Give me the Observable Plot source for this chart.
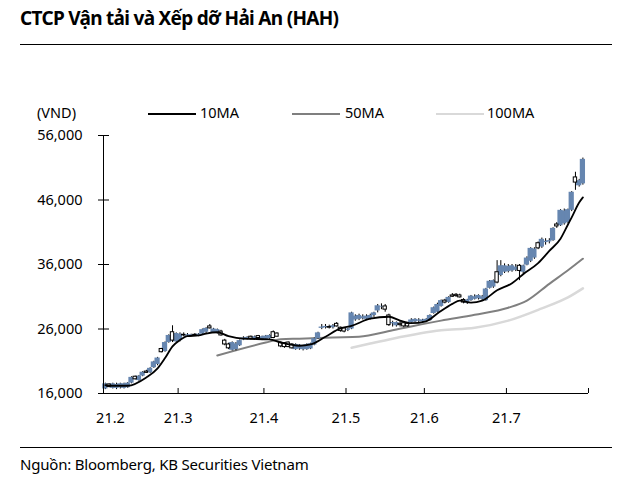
<!DOCTYPE html>
<html>
<head>
<meta charset="utf-8">
<script src="https://cdn.jsdelivr.net/npm/d3@7"></script>
<script src="https://cdn.jsdelivr.net/npm/@observablehq/plot@0.6"></script>
<style>
  html, body { margin: 0; padding: 0; background: #fff; }
  body { width: 621px; height: 481px; position: relative; overflow: hidden; font-family: "Noto Sans", sans-serif; color: #000; }
  .abs { position: absolute; }
  #title { left: 20px; top: 5px; font-size: 19px; font-weight: 700; letter-spacing: -0.7px; white-space: nowrap; }
  .hr { height: 1px; background: #000; left: 20px; width: 592px; }
  #footer { left: 20px; top: 454px; font-size: 15px; white-space: nowrap; letter-spacing: -0.2px; }
  .leg { font-size: 14.5px; white-space: nowrap; }
  .sw { height: 2px; width: 48px; }
  #chart { left: 0; top: 95px; }
</style>
</head>
<body>
<div id="title" class="abs">CTCP Vận tải và Xếp dỡ Hải An (HAH)</div>
<div class="abs hr" style="top:44px"></div>
<div class="abs leg" style="left:37px; top:102px">(VND)</div>
<div class="abs sw" style="left:148px; top:113px; background:#000"></div>
<div class="abs leg" style="left:200px; top:102px">10MA</div>
<div class="abs sw" style="left:292px; top:113px; background:#7f7f7f"></div>
<div class="abs leg" style="left:345px; top:102px">50MA</div>
<div class="abs sw" style="left:436px; top:113px; background:#d9d9d9"></div>
<div class="abs leg" style="left:487px; top:102px">100MA</div>
<div id="chart" class="abs"></div>
<div class="abs hr" style="top:447px"></div>
<div id="footer" class="abs">Nguồn: Bloomberg, KB Securities Vietnam</div>
<script>
// Trading-day index (weekdays Feb 1 – Jul 29, 2021); prices in thousand VND
const monthTickIdx = [0, 20, 43, 65, 86, 108, 130];
const monthLabels = ["21.2", "21.3", "21.4", "21.5", "21.6", "21.7"];
const yTicks = [16000, 26000, 36000, 46000, 56000];

const open = [16.7,17.4,16.8,16.8,16.9,16.8,16.9,17.6,18.6,18.0,18.7,19.4,19.2,20.0,20.5,22.9,22.5,23.9,25.5,24.0,
  24.2,25.1,24.9,25.0,25.1,25.0,25.2,25.5,26.4,25.4,25.3,25.6,24.2,23.6,22.7,22.8,23.4,24.3,24.5,24.8,
  24.4,24.9,24.3,24.4,24.5,25.5,25.3,23.9,23.8,23.9,23.6,22.8,22.9,22.8,22.8,22.9,23.5,24.5,26.1,26.2,
  26.3,26.2,26.8,26.2,26.1,25.8,26.0,27.4,27.5,27.6,27.5,27.6,28.1,28.8,29.4,29.5,28.1,26.8,26.5,26.8,
  26.9,26.8,27.0,27.1,27.2,27.1,27.2,27.3,28.4,28.6,29.5,30.4,30.1,31.2,31.3,31.2,30.5,30.0,30.4,30.6,
  30.7,30.6,30.4,32.3,32.5,34.8,34.3,34.8,34.9,35.0,35.1,35.8,34.8,35.9,36.5,37.0,39.3,38.7,39.4,39.5,
  39.7,42.2,42.0,42.3,42.5,44.4,49.5,48.2,48.5];
const high = [17.6,17.5,17.6,17.6,17.6,17.6,17.7,18.6,18.7,18.8,19.4,19.6,20.0,21.0,21.6,23.0,24.0,25.1,26.5,25.4,
  25.4,25.4,25.3,25.2,25.3,25.3,26.0,26.2,26.7,26.1,26.0,25.8,24.4,23.8,24.0,23.9,24.3,24.8,24.8,24.9,
  24.9,25.0,24.9,25.0,25.1,25.7,25.4,24.0,23.9,24.0,23.7,23.7,23.6,23.5,23.7,23.8,24.6,25.5,26.7,26.7,
  26.6,26.7,27.0,26.3,26.2,26.1,28.6,28.2,28.3,28.2,28.2,28.3,28.6,29.8,29.9,29.8,28.3,27.2,27.1,27.2,
  27.0,27.0,27.6,27.6,27.6,27.5,27.6,28.2,29.4,30.0,30.5,30.6,31.0,31.5,31.5,31.4,30.7,30.6,31.2,31.3,
  31.3,31.2,32.3,33.5,33.6,36.6,36.6,36.1,36.0,36.0,36.0,36.0,35.9,37.2,38.6,38.6,39.5,40.1,40.0,40.0,
  41.7,42.5,44.5,44.6,44.6,47.3,50.3,49.2,52.5];
const low = [16.6,16.9,16.7,16.6,16.7,16.7,16.8,17.5,18.1,17.9,18.6,19.1,19.1,19.9,20.3,22.3,22.4,23.8,23.9,23.9,
  24.0,24.8,24.7,24.8,24.9,24.8,25.1,25.3,26.0,25.3,25.2,24.9,23.4,22.8,22.6,22.6,23.3,24.2,24.3,24.3,
  24.3,24.4,24.2,24.3,24.4,24.5,24.8,23.1,23.0,23.1,22.9,22.7,22.7,22.6,22.7,22.8,23.4,24.4,25.9,26.0,
  26.0,26.0,26.3,25.5,25.4,25.6,25.9,27.2,27.3,27.4,27.3,27.4,27.8,28.5,29.0,28.6,26.4,26.3,26.3,26.3,
  26.2,26.3,26.9,27.0,27.0,26.9,27.0,27.2,28.3,28.5,29.4,29.9,30.0,30.9,30.9,30.8,29.9,29.8,30.3,30.5,
  30.5,30.4,30.3,32.2,32.3,33.0,34.1,34.6,34.7,34.8,34.9,33.5,34.5,35.8,36.3,36.8,38.3,38.5,39.0,39.2,
  39.6,41.6,41.9,42.1,42.3,44.2,47.5,48.0,48.3];
const close = [17.5,17.0,17.5,17.4,17.5,17.5,17.6,18.5,18.2,18.7,19.3,19.2,19.9,20.9,21.5,22.4,23.9,25.0,24.2,25.3,
  25.2,25.0,25.1,25.1,25.0,25.2,25.9,26.1,26.1,26.0,25.9,25.0,23.6,23.0,23.9,23.7,24.2,24.6,24.7,24.5,
  24.8,24.6,24.8,24.9,25.0,24.6,24.8,23.3,23.2,23.2,23.0,23.6,23.5,23.4,23.6,23.7,24.5,25.4,26.3,26.4,
  26.2,26.5,26.4,25.7,25.6,26.0,28.5,28.0,28.1,27.9,28.0,28.1,28.5,29.6,29.5,29.0,26.6,27.0,27.0,26.6,
  26.4,26.4,27.4,27.5,27.4,27.4,27.5,28.1,29.3,29.8,30.4,30.1,30.9,31.0,31.1,30.9,30.1,30.5,31.1,31.0,
  31.2,31.0,32.2,33.4,33.5,33.2,35.8,35.8,35.7,35.8,35.6,35.0,35.8,37.0,38.5,38.4,38.5,39.9,39.6,39.7,
  41.6,41.9,44.4,44.3,44.5,47.2,48.7,49.0,52.3];

const ma10Day = [0,1,6,11,14,16,18,20,22,25,27,30,33,37,44,47,52,55,59,63,66,71,76,79,82,86,89,93,95,98,101,105,109,112,116,119,122,124,125,127,128];
const ma10 = [17.3,17.2,17.2,18.5,19.9,21.5,23.3,24.3,24.9,25.0,25.3,25.5,24.9,24.5,24.4,23.9,23.4,23.6,24.8,26.1,26.5,27.6,27.9,27.3,26.9,27.2,28.4,29.9,30.4,30.1,30.4,32.0,33.1,34.5,36.2,38.1,40.0,42.2,43.3,45.6,46.4];
const ma50Day = [30,43,47,52,61,68,77,90,99,108,113,119,124,128];
const ma50 = [21.9,23.9,24.4,24.5,24.7,24.8,25.8,27.3,28.2,29.3,30.4,33.0,35.1,36.9];
const ma100Day = [66,71,77,90,99,108,117,124,128];
const ma100 = [23.1,23.75,24.5,25.8,26.2,27.3,29.2,30.9,32.3];

const candles = open.map((o, i) => ({i, o: o * 1000, h: high[i] * 1000, l: low[i] * 1000, c: close[i] * 1000}));
const up = candles.filter(d => d.c >= d.o);
const down = candles.filter(d => d.c < d.o);
const line = (days, vals) => days.map((d, k) => ({x: d + 0.5, y: vals[k] * 1000}));
const ticksX = monthTickIdx.map((t, k) => ({t, label: monthLabels[k]})).filter(d => d.label);

const chart = Plot.plot({
  width: 621, height: 340,
  marginTop: 40, marginBottom: 42, marginLeft: 103, marginRight: 33,
  style: {fontFamily: "Noto Sans", fontSize: "14.5px", color: "#000", background: "transparent"},
  x: {type: "linear", domain: [0, 130], axis: null},
  y: {domain: [16000, 56000], axis: null},
  marks: [
    Plot.line(line(ma100Day, ma100), {x: "x", y: "y", stroke: "#d9d9d9", strokeWidth: 2.5, curve: "monotone-x"}),
    Plot.line(line(ma50Day, ma50), {x: "x", y: "y", stroke: "#808080", strokeWidth: 2, curve: "monotone-x"}),
    Plot.ruleX(candles, {x: d => d.i + 0.5, y1: "l", y2: "h", stroke: "#000", strokeWidth: 1}),
    Plot.rect(up, {x1: d => d.i - 0.2, x2: d => d.i + 1.2, y1: "o", y2: "c", fill: "#6686b0"}),
    Plot.rect(down, {x1: d => d.i + 0.05, x2: d => d.i + 0.95, y1: "o", y2: "c", fill: "#fff", stroke: "#000", strokeWidth: 1}),
    Plot.line(line(ma10Day, ma10), {x: "x", y: "y", stroke: "#000", strokeWidth: 1.8, curve: "monotone-x"}),
    Plot.ruleX([0], {stroke: "#000"}),
    Plot.ruleY([16000], {stroke: "#000"}),
    Plot.axisY({ticks: yTicks, tickSize: 5, tickPadding: 16, tickFormat: d3.format(","), label: null}),
    Plot.axisY({ticks: yTicks, tickSize: -6, tickFormat: () => "", label: null}),
    Plot.axisX({ticks: monthTickIdx.slice(1), tickSize: -5, tickFormat: () => "", label: null}),
    Plot.text(ticksX.slice(0, 1), {x: "t", y: () => 16000, text: "label", dy: 25, dx: 7}),
    Plot.text(ticksX.slice(1), {x: "t", y: () => 16000, text: "label", dy: 25})
  ]
});
document.getElementById("chart").appendChild(chart);
</script>
</body>
</html>
